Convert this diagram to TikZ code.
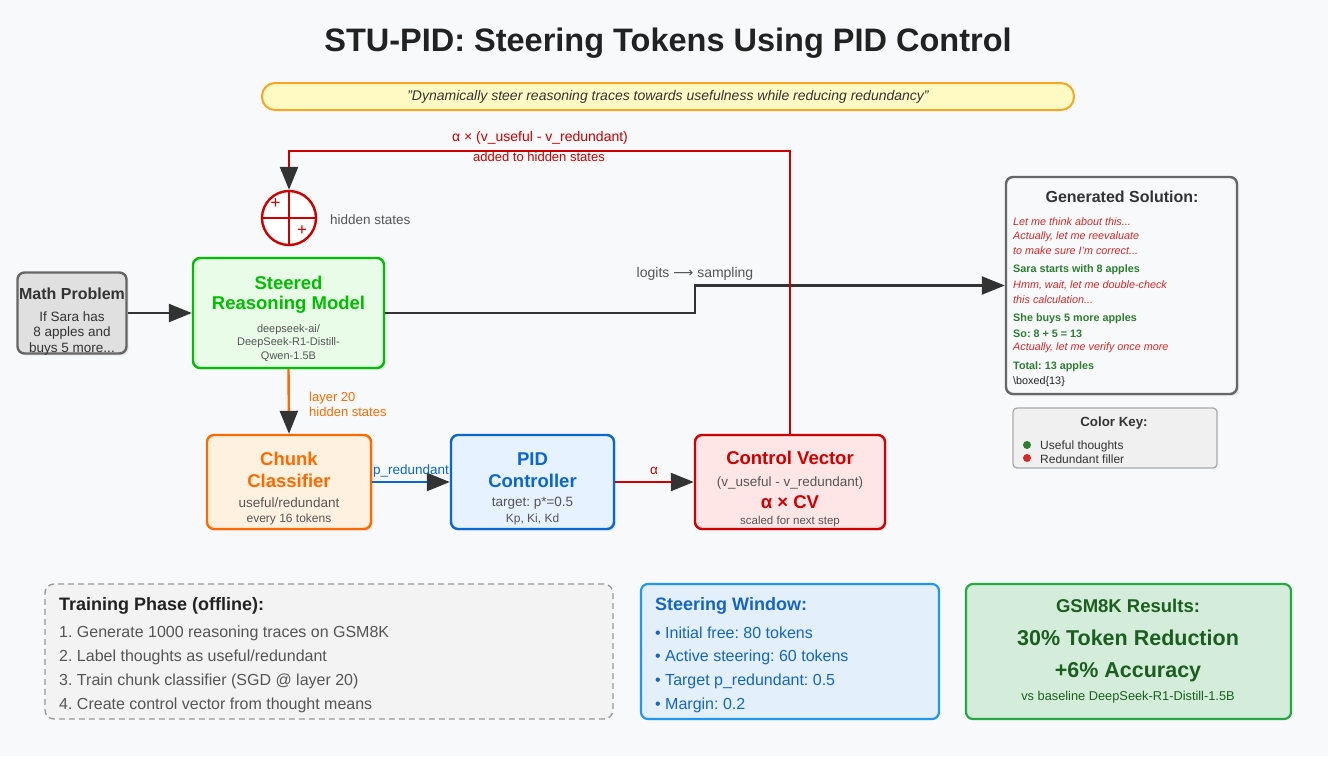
\documentclass[tikz,border=0pt]{standalone}
\usepackage{fontspec}
\setmainfont{Liberation Sans}
\newfontfamily\dejavu{DejaVu Sans}
\usetikzlibrary{arrows.meta,shadows}
\definecolor{bgc}{HTML}{F8F9FA}
\definecolor{titlec}{HTML}{222222}
\definecolor{tipc}{HTML}{333333}
\definecolor{darkl}{HTML}{333333}
\definecolor{graytxt}{HTML}{555555}
\definecolor{quotefill}{HTML}{FFF9C4}
\definecolor{quotedraw}{HTML}{F5A623}
\definecolor{redl}{HTML}{CC0000}
\definecolor{cvfill}{HTML}{FFE6E6}
\definecolor{cvdraw}{HTML}{D00000}
\definecolor{grn}{HTML}{00BF00}
\definecolor{grnfill}{HTML}{E8FCE8}
\definecolor{org}{HTML}{FF6A00}
\definecolor{orgfill}{HTML}{FFF1E0}
\definecolor{blu}{HTML}{0A66D0}
\definecolor{blufill}{HTML}{E6F2FF}
\definecolor{mathfill}{HTML}{E0E0E0}
\definecolor{mathdraw}{HTML}{666666}
\definecolor{solred}{HTML}{D62828}
\definecolor{solgrn}{HTML}{2E7D32}
\definecolor{keyfill}{HTML}{F0F0F0}
\definecolor{keydraw}{HTML}{AAAAAA}
\definecolor{trainfill}{HTML}{F3F3F3}
\definecolor{traindraw}{HTML}{999999}
\definecolor{swfill}{HTML}{E3F0FB}
\definecolor{swdraw}{HTML}{2196F3}
\definecolor{swtxt}{HTML}{1565C0}
\definecolor{resfill}{HTML}{D4EDDA}
\definecolor{resdraw}{HTML}{28A745}
\definecolor{restxt}{HTML}{1B5E20}
\newcommand\fsz[1]{\fontsize{#1}{#1}\selectfont}
\frenchspacing
\begin{document}
\begin{tikzpicture}[x=1pt,y=-1pt,
  box/.style={rounded corners=7pt, line width=2.4pt, inner sep=0pt,
    drop shadow={shadow xshift=2pt, shadow yshift=-2pt, opacity=0.15}},
  flatbox/.style={rounded corners=7pt, inner sep=0pt},
  lbl/.style={inner sep=0pt, anchor=center},
  lft/.style={inner sep=0pt, anchor=west},
  arr/.style={line width=2.4pt, -{Triangle[length=23pt,width=18pt,color=tipc]}},
]
\fill[bgc] (0,0) rectangle (1328,756);
\useasboundingbox (0,0) rectangle (1328,756);

% title
\node[lbl, text=titlec, font=\fsz{32.5}\bfseries] (title) at (668,43) {STU-PID: Steering Tokens Using PID Control};
\node[flatbox, rounded corners=13pt, draw=quotedraw, fill=quotefill, line width=2pt,
  minimum width=812pt, minimum height=27pt] (quote) at (668,96.5) {};
\node[lbl, text=darkl, font=\fsz{14}\itshape] (quotet) at (668,97) {"Dynamically steer reasoning traces towards usefulness while reducing redundancy"};

% main boxes
\node[box, draw=mathdraw, fill=mathfill, minimum width=109pt, minimum height=81pt] (math) at (72,313) {};
\node[lbl, text=darkl, font=\fsz{16}\bfseries] (matht) at (72,294) {Math Problem};
\node[lbl, text=darkl, font=\fsz{13.5}] (math1) at (72,317) {If Sara has};
\node[lbl, text=darkl, font=\fsz{13.5}] (math2) at (72,333) {8 apples and};
\node[lbl, text=darkl, font=\fsz{13.5}] (math3) at (72,349) {buys 5 more...};

\node[box, draw=grn, fill=grnfill, minimum width=191pt, minimum height=110pt] (steer) at (288.5,313) {};
\node[lbl, text=grn, font=\fsz{18.5}\bfseries] (steer1) at (288.5,283) {Steered};
\node[lbl, text=grn, font=\fsz{18.5}\bfseries] (steer2) at (288.5,305) {Reasoning Model};
\node[lbl, text=graytxt, font=\fsz{11}] (steer3) at (288.5,330) {deepseek-ai/};
\node[lbl, text=graytxt, font=\fsz{11}] (steer4) at (288.5,343) {DeepSeek-R1-Distill-};
\node[lbl, text=graytxt, font=\fsz{11}] (steer5) at (288.5,357) {Qwen-1.5B};

\node[box, draw=org, fill=orgfill, minimum width=164pt, minimum height=94pt] (chunk) at (289,482) {};
\node[lbl, text=org, font=\fsz{18.5}\bfseries] (chunk1) at (289,459) {Chunk};
\node[lbl, text=org, font=\fsz{18.5}\bfseries] (chunk2) at (289,481) {Classifier};
\node[lbl, text=graytxt, font=\fsz{13.5}] (chunk3) at (289,503) {useful/redundant};
\node[lbl, text=graytxt, font=\fsz{12}] (chunk4) at (289,519) {every 16 tokens};

\node[box, draw=blu, fill=blufill, minimum width=163pt, minimum height=94pt] (pid) at (532.5,482) {};
\node[lbl, text=blu, font=\fsz{18.5}\bfseries] (pid1) at (532.5,459) {PID};
\node[lbl, text=blu, font=\fsz{18.5}\bfseries] (pid2) at (532.5,481) {Controller};
\node[lbl, text=graytxt, font=\fsz{13.5}] (pid3) at (532.5,503) {target: p*=0.5};
\node[lbl, text=graytxt, font=\fsz{12}] (pid4) at (532.5,519) {Kp, Ki, Kd};

\node[box, draw=cvdraw, fill=cvfill, minimum width=190pt, minimum height=94pt] (cv) at (790,482) {};
\node[lbl, text=cvdraw, font=\fsz{18.5}\bfseries] (cv1) at (790,458) {Control Vector};
\node[lbl, text=graytxt, font=\fsz{13.5}] (cv2) at (790,483) {(v\_useful - v\_redundant)};
\node[lbl, text=cvdraw, font=\fsz{18.5}\bfseries] (cv3) at (790,502) {α × CV};
\node[lbl, text=graytxt, font=\fsz{11.5}] (cv4) at (790,522) {scaled for next step};

% summation circle
\node[circle, draw=redl, fill=white, line width=2.4pt, minimum size=54pt, inner sep=0pt] (sum) at (289,218) {};
\draw[redl, line width=2.4pt] (sum.west) -- (sum.east) (sum.north) -- (sum.south);
\node[lbl, text=redl, font=\fsz{17}] (plus1) at (275.5,204) {+};
\node[lbl, text=redl, font=\fsz{17}] (plus2) at (302,231) {+};
\node[lft, text=graytxt, font=\fsz{13.5}] (hs) at (330,220) {hidden states};

% generated solution
\node[box, draw=mathdraw, fill=bgc, minimum width=231pt, minimum height=217pt] (gen) at (1121.5,285.5) {};
\node[lbl, text=darkl, font=\fsz{16}\bfseries] (gen0) at (1122,197) {Generated Solution:};
\node[lft, text=solred, font=\fsz{10.8}\itshape] (g1) at (1013,222) {Let me think about this...};
\node[lft, text=solred, font=\fsz{10.8}\itshape] (g2) at (1013,237) {Actually, let me reevaluate};
\node[lft, text=solred, font=\fsz{10.8}\itshape] (g3) at (1013,251) {to make sure I'm correct...};
\node[lft, text=solgrn, font=\fsz{10.8}\bfseries] (g4) at (1013,270) {Sara starts with 8 apples};
\node[lft, text=solred, font=\fsz{10.8}\itshape] (g5) at (1013,285) {Hmm, wait, let me double-check};
\node[lft, text=solred, font=\fsz{10.8}\itshape] (g6) at (1013,300) {this calculation...};
\node[lft, text=solgrn, font=\fsz{10.8}\bfseries] (g7) at (1013,319) {She buys 5 more apples};
\node[lft, text=solgrn, font=\fsz{10.8}\bfseries] (g8) at (1013,334) {So: 8 + 5 = 13};
\node[lft, text=solred, font=\fsz{10.8}\itshape] (g9) at (1013,348) {Actually, let me verify once more};
\node[lft, text=solgrn, font=\fsz{10.8}\bfseries] (g10) at (1013,367) {Total: 13 apples};
\node[lft, text=titlec, font=\fsz{10.8}] (g11) at (1013,382) {\textbackslash boxed\{13\}};

% color key
\node[flatbox, rounded corners=4pt, draw=keydraw, fill=keyfill, line width=1.3pt, minimum width=204pt, minimum height=60pt] (key) at (1115,438) {};
\node[lbl, text=darkl, font=\fsz{13.3}\bfseries] (key0) at (1114,423) {Color Key:};
\fill[solgrn] (1027,445) circle (4pt);
\fill[solred] (1027,458) circle (4pt);
\node[lft, text=darkl, font=\fsz{12}] (key1) at (1040,446) {Useful thoughts};
\node[lft, text=darkl, font=\fsz{12}] (key2) at (1040,459) {Redundant filler};

% bottom panels
\node[flatbox, rounded corners=9pt, draw=traindraw, fill=trainfill, line width=1.4pt, dash pattern=on 6pt off 4pt,
  minimum width=568pt, minimum height=135pt] (train) at (329,651.5) {};
\node[lft, text=titlec, font=\fsz{18}\bfseries] (tr0) at (59,606) {Training Phase (offline):};
\node[lft, text=graytxt, font=\fsz{16}] (tr1) at (59,633) {1. Generate 1000 reasoning traces on GSM8K};
\node[lft, text=graytxt, font=\fsz{16}] (tr2) at (59,657) {2. Label thoughts as useful/redundant};
\node[lft, text=graytxt, font=\fsz{16}] (tr3) at (59,681) {3. Train chunk classifier (SGD @ layer 20)};
\node[lft, text=graytxt, font=\fsz{16}] (tr4) at (59,705) {4. Create control vector from thought means};

\node[flatbox, draw=swdraw, fill=swfill, line width=2.2pt, minimum width=298pt, minimum height=135pt] (sw) at (790,651.5) {};
\node[lft, text=swtxt, font=\fsz{18}\bfseries] (sw0) at (655,606) {Steering Window:};
\node[lft, text=swtxt, font=\fsz{16}] (sw1) at (655,633) {• Initial free: 80 tokens};
\node[lft, text=swtxt, font=\fsz{16}] (sw2) at (655,657) {• Active steering: 60 tokens};
\node[lft, text=swtxt, font=\fsz{16}] (sw3) at (655,681) {• Target p\_redundant: 0.5};
\node[lft, text=swtxt, font=\fsz{16}] (sw4) at (655,705) {• Margin: 0.2};

\node[flatbox, draw=resdraw, fill=resfill, line width=2.2pt, minimum width=325pt, minimum height=135pt] (res) at (1128.5,651.5) {};
\node[lbl, text=restxt, font=\fsz{18.5}\bfseries] (res0) at (1128,606) {GSM8K Results:};
\node[lbl, text=restxt, font=\fsz{21.5}\bfseries] (res1) at (1128,638) {30\% Token Reduction};
\node[lbl, text=restxt, font=\fsz{21.5}\bfseries] (res2) at (1128,672) {+6\% Accuracy};
\node[lbl, text=restxt, font=\fsz{12.8}] (res3) at (1128,697) {vs baseline DeepSeek-R1-Distill-1.5B};

% connectors
\coordinate (jog) at (695,313);
\coordinate (fbl) at (289,151);
\draw[arr, draw=darkl] (math.east) -- (steer.west);
\draw[arr, draw=darkl] (steer.east) -- (jog) |- (gen.west);
\node[lbl, text=graytxt, font=\fsz{14}] (logl) at (695,274) {logits {\dejavu ⟶} sampling};
\draw[arr, draw=org] (steer.south) -- (chunk.north);
\node[lft, text=org, font=\fsz{13}] (l20a) at (309,398) {layer 20};
\node[lft, text=org, font=\fsz{13}] (l20b) at (309,412) {hidden states};
\draw[arr, draw=blu] (chunk.east) -- (pid.west);
\node[lbl, text=blu, font=\fsz{13.5}] (prl) at (411,471) {p\_redundant};
\draw[arr, draw=redl] (pid.east) -- (cv.west);
\node[lbl, text=redl, font=\fsz{13.5}] (al) at (654,471) {α};
\draw[arr, draw=redl] (cv.north) |- (fbl) -- (sum.north);
\node[lbl, text=redl, font=\fsz{14}] (fb1) at (540,138) {α × (v\_useful - v\_redundant)};
\node[lbl, text=redl, font=\fsz{13}] (fb2) at (539,157) {added to hidden states};
\end{tikzpicture}
\end{document}
